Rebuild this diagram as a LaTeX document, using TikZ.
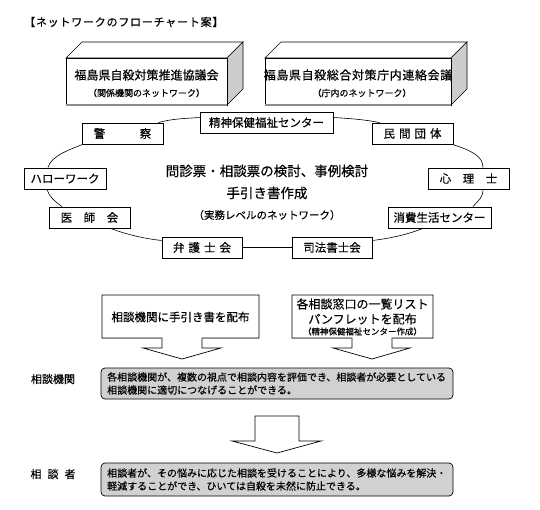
\documentclass[tikz,border=0pt]{standalone}
\usepackage{fontspec}
\setmainfont{Noto Sans CJK JP}[FakeBold=0.35]
\begin{document}
\begin{tikzpicture}[x=1pt,y=-1pt,
  net/.style={draw,fill=white,line width=0.8pt,minimum height=21pt,inner sep=0pt,font=\fontsize{11.5}{12}\selectfont},
  conn/.style={line width=0.6pt},
  face/.style={draw,line width=0.7pt,fill=white},
  side/.style={draw,line width=0.7pt,fill=black!20},
  shade/.style={draw=black!45,line width=1.4pt},
  arrowbox/.style={draw,line width=0.7pt,fill=white,line join=miter},
  note/.style={draw,rounded corners=4pt,fill=black!18,line width=0.7pt},
  notetext/.style={anchor=west,inner sep=0pt,align=left,font=\fontsize{10}{13}\selectfont},
  lab/.style={inner sep=0pt,font=\fontsize{11}{13}\selectfont}
]
\useasboundingbox (0,0) rectangle (540,510);

% title
\node[anchor=west,inner sep=0pt,font=\fontsize{11}{13}\selectfont\addfontfeature{LetterSpace=7}] (title) at (24,22) {【ネットワークのフローチャート案】};

% 3D box 1
\path[face] (66,58) -- (82,42) -- (243,42) -- (227,58) -- cycle;
\path[side] (227,58) -- (243,42) -- (243,89) -- (227,105) -- cycle;
\path[face] (66,58) rectangle (227,105);
\draw[shade] (66,105) -- (227,105);
\node[inner sep=0pt,font=\fontsize{12}{14}\selectfont] (kyogi) at (146.5,75) {福島県自殺対策推進協議会};
\node[inner sep=0pt,font=\fontsize{9}{11}\selectfont] (kyogisub) at (146.5,93) {（関係機関のネットワーク）};

% 3D box 2
\path[face] (265,58) -- (281,42) -- (467,42) -- (451,58) -- cycle;
\path[side] (451,58) -- (467,42) -- (467,89) -- (451,105) -- cycle;
\path[face] (265,58) rectangle (451,105);
\draw[shade] (265,105) -- (451,105);
\node[inner sep=0pt,font=\fontsize{12}{14}\selectfont\addfontfeature{LetterSpace=5}] (renraku) at (358,75) {福島県自殺総合対策庁内連絡会議};
\node[inner sep=0pt,font=\fontsize{9}{11}\selectfont] (renrakusub) at (362,93) {（庁内のネットワーク）};

% network nodes
\node[net,minimum width=133pt] (s) at (266.5,122.5) {精神保健福祉センター};
\node[net,minimum width=81pt] (k) at (122.5,133.5) {警　　　察};
\node[net,minimum width=81pt] (m) at (412.5,133.5) {民\kern4pt 間\kern4pt 団\kern4pt 体};
\node[net,minimum width=82pt] (h) at (65,178.5) {ハローワーク};
\node[net,minimum width=81pt] (r) at (468.5,178.5) {心　理　士};
\node[net,minimum width=81pt] (i) at (89.5,217.5) {医　師　会};
\node[net,minimum width=103pt] (c) at (439.5,217.5) {消費生活センター};
\node[net,minimum width=80pt] (b) at (202,247.5) {弁\kern4pt 護\kern4pt 士\kern4pt 会};
\node[net,minimum width=80pt] (j) at (332,247.5) {司法書士会};

% center text
\node[inner sep=0pt,font=\fontsize{13.5}{15}\selectfont] (t1) at (267,171) {問診票・相談票の検討、事例検討};
\node[inner sep=0pt,font=\fontsize{13.5}{15}\selectfont] (t2) at (267,193) {手引き書作成};
\node[inner sep=0pt,font=\fontsize{10.5}{12}\selectfont] (t3) at (267,215) {（実務レベルのネットワーク）};

% connectors
\draw[conn] ([xshift=-5pt]k.north east) .. controls +(14,-4) and +(-14,1) .. ([yshift=5pt]s.west);
\draw[conn] ([yshift=5pt]s.east) .. controls +(16,1) and +(-14,-3) .. ([xshift=8pt]m.north west);
\draw[conn] ([xshift=-1pt]m.south east) .. controls +(18,6) and +(0,-12) .. ([xshift=14.5pt]r.north);
\draw[conn] ([xshift=14.5pt]r.south) .. controls +(0,8) and +(6,-7) .. ([xshift=33.5pt]c.north);
\draw[conn] ([xshift=-16.5pt]c.south) .. controls +(-18,7) and +(16,-2) .. ([yshift=7pt]j.east);
\draw[conn] (j.west) -- (b.east);
\draw[conn] ([yshift=7pt]b.west) .. controls +(-18,-2) and +(16,6) .. ([xshift=-20pt]i.south east);
\draw[conn] ([xshift=-27.5pt]i.north) .. controls +(-8,-6) and +(2,7) .. ([xshift=-18pt]h.south);
\draw[conn] ([xshift=-17pt]h.north) .. controls +(3,-12) and +(-12,5) .. ([xshift=1pt]k.south west);

% lower arrow boxes
\path[arrowbox] (102,295) -- (259,295) -- (259,338) -- (202,338) -- (202,348) -- (221,348) -- (182,359) -- (143,348) -- (162,348) -- (162,338) -- (102,338) -- cycle;
\draw[draw=black!45,line width=1pt] (102,338) -- (162,338) (202,338) -- (259,338);
\node[inner sep=0pt,font=\fontsize{11.5}{13}\selectfont] (haifu) at (180.5,317) {相談機関に手引き書を配布};

\path[arrowbox] (292,295) -- (433,295) -- (433,338) -- (392,338) -- (392,348) -- (410,348) -- (372,359) -- (333,348) -- (352,348) -- (352,338) -- (292,338) -- cycle;
\draw[draw=black!45,line width=1pt] (292,338) -- (352,338) (392,338) -- (433,338);
\node[inner sep=0pt,font=\fontsize{12}{14}\selectfont] (list1) at (362.5,304) {各相談窓口の一覧リスト};
\node[inner sep=0pt,font=\fontsize{12}{14}\selectfont] (list2) at (362.5,319) {パンフレットを配布};
\node[inner sep=0pt,font=\fontsize{8.5}{10}\selectfont] (list3) at (362.5,331.5) {（精神保健福祉センター作成）};

% 相談機関
\node[lab] (kikan) at (53,379) {相談機関};
\path[note] (101,368) rectangle (453,399);
\node[notetext] (kikantext) at (107,383.5) {各相談機関が、複数の視点で相談内容を評価でき、相談者が必要としている\\相談機関に適切につなげることができる。};

% big arrow
\path[arrowbox] (255,416) -- (299,416) -- (299,441) -- (321,441) -- (277,453) -- (232,441) -- (255,441) -- cycle;

% 相談者
\node[lab] (sha) at (53,474) {相\kern6pt 談\kern6pt 者};
\path[note] (101,463) rectangle (453,496);
\node[notetext] (shatext) at (107,479.5) {相談者が、その悩みに応じた相談を受けることにより、多様な悩みを解決・\\軽減することができ、ひいては自殺を未然に防止できる。};
\end{tikzpicture}
\end{document}
